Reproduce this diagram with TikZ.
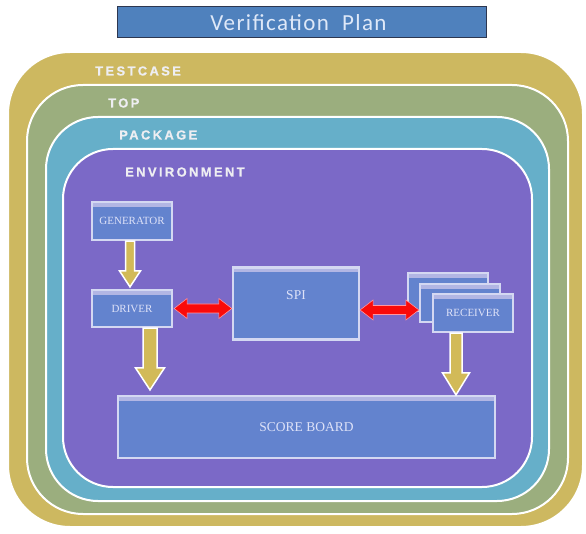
\documentclass[tikz,border=0pt]{standalone}
\usepackage{fontspec}
\setmainfont{Liberation Serif}
\newfontfamily\framefont[LetterSpace=18, BoldFeatures={FakeBold=0.8}]{Liberation Sans}
\newfontfamily\titlefont[LetterSpace=6]{Carlito}
\usetikzlibrary{calc}
\definecolor{barblue}{RGB}{79,129,189}
\definecolor{bardark}{RGB}{45,55,80}
\definecolor{tcgold}{RGB}{205,184,96}
\definecolor{topgreen}{RGB}{155,174,126}
\definecolor{pkgblue}{RGB}{102,175,201}
\definecolor{envpurple}{RGB}{123,105,199}
\definecolor{boxblue}{RGB}{99,131,206}
\definecolor{boxedge}{RGB}{212,216,242}
\definecolor{boxband}{RGB}{178,182,228}
\definecolor{boxtextc}{RGB}{222,226,248}
\definecolor{labelc}{RGB}{238,238,242}
\definecolor{titletext}{RGB}{222,232,248}
\definecolor{arrowgold}{RGB}{210,186,88}
\definecolor{redc}{RGB}{250,10,10}
\definecolor{rededge}{RGB}{255,150,160}
\tikzset{
  frame/.style={draw=white, line width=2pt},
  framelabel/.style={anchor=west, inner sep=0pt, text=labelc, font=\framefont\bfseries\fontsize{13}{15}\selectfont},
  box/.style={fill=boxblue, draw=boxedge, line width=2.2pt, inner sep=0pt,
    text=boxtextc, font=\fontsize{11}{13}\selectfont,
    path picture={\fill[boxband] (path picture bounding box.north west) rectangle ([yshift=-5pt]path picture bounding box.north east);}},
  bigbox/.style={box, font=\fontsize{13.5}{15}\selectfont},
  goldarrow/.style={fill=arrowgold, draw=white, line width=1.5pt, line join=miter},
  redarrow/.style={fill=redc, draw=rededge, line width=0.6pt, line join=miter},
}
% vertical fat arrow: start point, point giving tip height, half shaft, half head, head length
\newcommand\vfatarrow[5]{%
  \draw[goldarrow] let \p1=(#1), \p2=(#2) in
    (\x1-#3,\y1) -- (\x1-#3,\y2+#5) -- (\x1-#4,\y2+#5) -- (\x1,\y2)
    -- (\x1+#4,\y2+#5) -- (\x1+#3,\y2+#5) -- (\x1+#3,\y1) -- cycle;}
% horizontal double arrow: left point (gives height), right point
\newcommand\hdblarrow[2]{%
  \draw[redarrow] let \p1=(#1), \p2=(#2) in
    (\x1,\y1) -- (\x1+13pt,\y1+10pt) -- (\x1+13pt,\y1+4.5pt) -- (\x2-13pt,\y1+4.5pt)
    -- (\x2-13pt,\y1+10pt) -- (\x2,\y1) -- (\x2-13pt,\y1-10pt) -- (\x2-13pt,\y1-4.5pt)
    -- (\x1+13pt,\y1-4.5pt) -- (\x1+13pt,\y1-10pt) -- cycle;}
\begin{document}
\begin{tikzpicture}[x=1pt,y=-1pt]
\useasboundingbox (0,0) rectangle (586,534);
\fill[white] (0,0) rectangle (586,534);
% title bar
\node[fill=barblue, draw=bardark, line width=0.8pt, minimum width=369pt, minimum height=31pt, inner sep=0pt] (title) at (301.5,22) {};
\node[text=titletext, font=\titlefont\fontsize{23}{26}\selectfont, inner sep=0pt] (titletxt) at (298.5,22.5) {Verification\ \ Plan};
% nested frames
\filldraw[frame, fill=tcgold, rounded corners=62pt] (8,52) rectangle (583,527);
\filldraw[frame, fill=topgreen, rounded corners=56pt] (27,85) rectangle (568,514);
\filldraw[frame, fill=pkgblue, rounded corners=52pt] (46,117) rectangle (549,501);
\filldraw[frame, fill=envpurple, rounded corners=50pt] (63,149) rectangle (532,487);
\node[framelabel] (lbltc) at (95,71) {TESTCASE};
\node[framelabel] (lbltop) at (108,103) {TOP};
\node[framelabel] (lblpkg) at (119,135) {PACKAGE};
\node[framelabel] (lblenv) at (125,172) {ENVIRONMENT};
% blocks
\node[box, minimum width=80pt, minimum height=38pt] (gen) at (132,221) {GENERATOR};
\node[box, minimum width=80pt, minimum height=37pt] (drv) at (132,308.5) {DRIVER};
\node[bigbox, minimum width=126pt, minimum height=72pt, label={[text=boxtextc, font=\fontsize{13.5}{15}\selectfont, yshift=8pt]center:SPI}] (spi) at (296,303.5) {};
\node[box, minimum width=80pt, minimum height=38pt] (rcv1) at (448,292) {};
\node[box, minimum width=80pt, minimum height=38pt] (rcv2) at (460,303) {};
\node[box, minimum width=80pt, minimum height=38pt] (rcv3) at (473,313) {RECEIVER};
\node[bigbox, minimum width=377pt, minimum height=62pt] (score) at (306.5,427) {SCORE BOARD};
% connectors
\vfatarrow{[xshift=-2pt]gen.south}{[yshift=2pt]drv.north}{4.5pt}{10.5pt}{16pt}
\vfatarrow{[xshift=18pt]drv.south}{[yshift=5pt]score.north}{7pt}{14.5pt}{22pt}
\vfatarrow{[xshift=-17pt]rcv3.south}{score.north}{6pt}{13.5pt}{22pt}
\hdblarrow{[xshift=1pt]drv.east}{spi.west}
\hdblarrow{[yshift=-6.5pt]spi.east}{rcv2.west}
\end{tikzpicture}
\end{document}
